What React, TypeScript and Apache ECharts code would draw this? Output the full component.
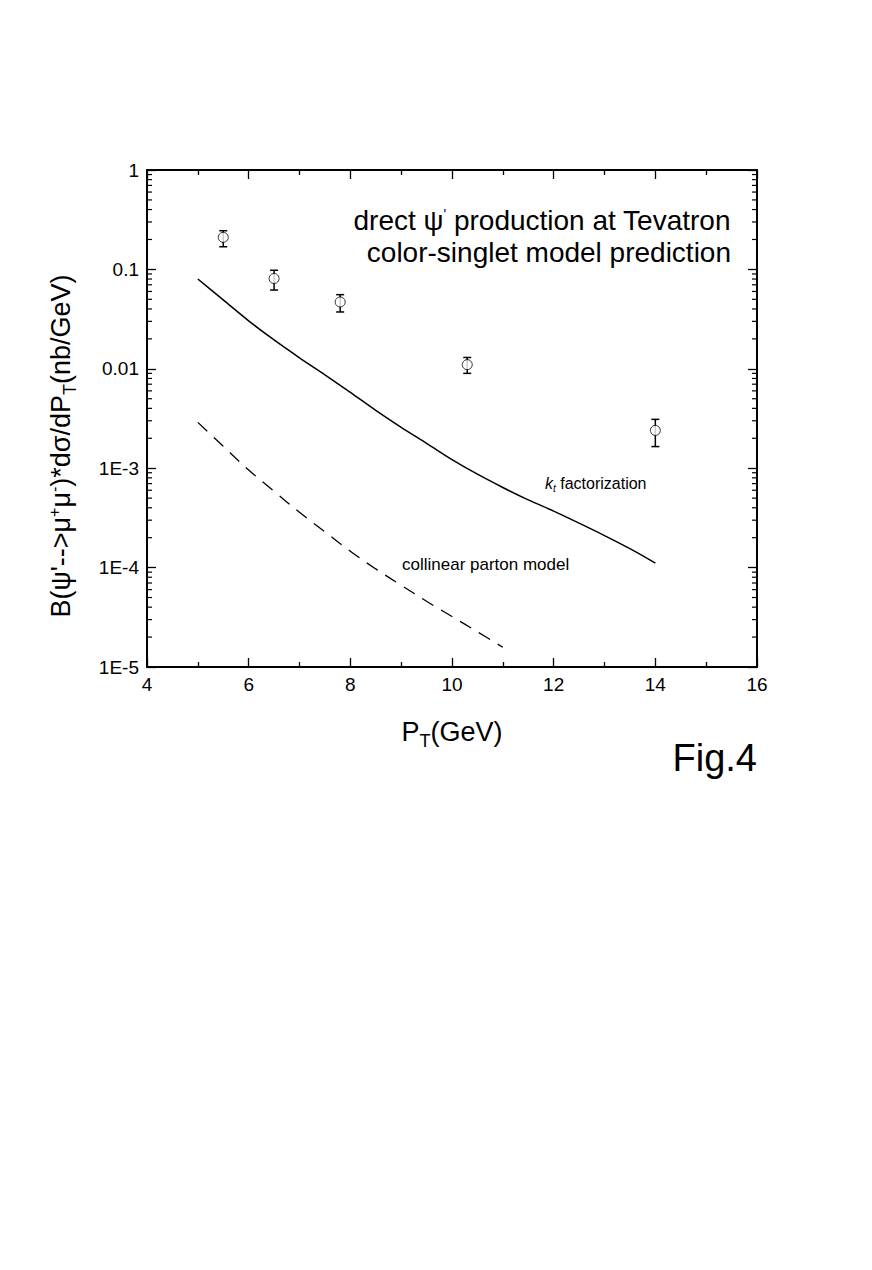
import React, { useEffect, useRef } from "react";
import * as echarts from "echarts";

// Measured data points (open circles with error bars)
const ptPoints = [5.5, 6.5, 7.8, 10.3, 14];
const dataValues = [0.21, 0.081, 0.047, 0.011, 0.0024];
const errUpper = [0.245, 0.098, 0.0557, 0.013, 0.0031];
const errLower = [0.169, 0.062, 0.0373, 0.009, 0.00165];

// kt factorization curve (solid)
const ktPt = [5, 5.5, 6, 6.5, 7, 7.5, 8, 8.5, 9, 9.5, 10, 10.5, 11, 11.5, 12, 12.5, 13, 13.5, 14];
const ktValues = [
  0.08, 0.0493, 0.0304, 0.0195, 0.0129, 0.0087, 0.0058, 0.00382, 0.00258, 0.00178,
  0.00122, 0.00087, 0.00064, 0.00048, 0.00037, 0.00028, 0.00021, 0.000155, 0.000111,
];

// collinear parton model curve (dashed)
const colPt = [5, 5.5, 6, 6.5, 7, 7.5, 8, 8.5, 9, 9.5, 10, 10.5, 11];
const colValues = [
  0.00289, 0.00166, 0.00096, 0.000585, 0.00036, 0.000229, 0.000146, 0.000097,
  0.0000665, 0.0000458, 0.0000322, 0.0000226, 0.0000158,
];

// axis settings
const xMin = 4;
const xMax = 16;
const yMin = 1e-5;
const yMax = 1;
const yMinorMantissas = [2, 3, 4, 5, 6, 7, 8, 9];
const yDecades = [1e-5, 1e-4, 1e-3, 1e-2, 1e-1];

const FONT = "'Liberation Sans', Arial, Helvetica, sans-serif";

export default function App() {
  const ref = useRef<HTMLDivElement>(null);

  useEffect(() => {
    if (!ref.current) return;
    const chart = echarts.init(ref.current, null, { renderer: "svg" });

    const minorTickData: number[][] = [];
    yDecades.forEach((d) => yMinorMantissas.forEach((m) => minorTickData.push([xMin, m * d])));

    const yLabel = (v: number) => {
      const e = Math.round(Math.log10(v));
      if (e === 0) return "1";
      if (e === -1) return "0.1";
      if (e === -2) return "0.01";
      return "1E" + e;
    };

    const axisLineStyle = { color: "#000", width: 2 };
    const tickStyle = { color: "#000", width: 1.3 };

    const option: any = {
      animation: false,
      backgroundColor: "#fff",
      grid: { left: 147, top: 170, width: 610, height: 497, containLabel: false },
      xAxis: [
        {
          type: "value",
          min: xMin,
          max: xMax,
          interval: 2,
          position: "bottom",
          axisLine: { show: true, lineStyle: axisLineStyle },
          axisTick: { show: true, inside: true, length: 9, lineStyle: tickStyle },
          minorTick: { show: true, splitNumber: 2, length: 5, lineStyle: tickStyle },
          splitLine: { show: false },
          axisLabel: { color: "#000", fontSize: 19, fontFamily: FONT, margin: 8 },
          name: "P{sub|T}(GeV)",
          nameLocation: "middle",
          nameGap: 47,
          nameTextStyle: {
            color: "#000",
            fontSize: 27,
            fontFamily: FONT,
            rich: {
              sub: { fontSize: 18, fontFamily: FONT, color: "#000", padding: [18, 0, 0, 0] },
            },
          },
        },
        {
          type: "value",
          min: xMin,
          max: xMax,
          interval: 2,
          position: "top",
          axisLine: { show: true, lineStyle: axisLineStyle },
          axisTick: { show: true, inside: true, length: 9, lineStyle: tickStyle },
          minorTick: { show: true, splitNumber: 2, length: 5, lineStyle: tickStyle },
          splitLine: { show: false },
          axisLabel: { show: false },
        },
      ],
      yAxis: [
        {
          type: "log",
          logBase: 10,
          min: yMin,
          max: yMax,
          position: "left",
          axisLine: { show: true, lineStyle: axisLineStyle },
          axisTick: { show: true, inside: true, length: 9, lineStyle: tickStyle },
          splitLine: { show: false },
          axisLabel: { color: "#000", fontSize: 19, fontFamily: FONT, margin: 8, formatter: yLabel },
        },
        {
          type: "log",
          logBase: 10,
          min: yMin,
          max: yMax,
          position: "right",
          axisLine: { show: true, lineStyle: axisLineStyle },
          axisTick: { show: true, inside: true, length: 9, lineStyle: tickStyle },
          splitLine: { show: false },
          axisLabel: { show: false },
        },
      ],
      series: [
        {
          type: "line",
          name: "kt factorization",
          data: ktPt.map((x, i) => [x, ktValues[i]]),
          showSymbol: false,
          smooth: 0.3,
          lineStyle: { color: "#000", width: 1.5, type: "solid" },
          z: 2,
        },
        {
          type: "line",
          name: "collinear parton model",
          data: colPt.map((x, i) => [x, colValues[i]]),
          showSymbol: false,
          smooth: 0.4,
          lineStyle: { color: "#000", width: 1.3, type: [13, 9] },
          z: 2,
        },
        {
          type: "custom",
          name: "errors",
          data: ptPoints.map((x, i) => [x, errLower[i], errUpper[i]]),
          encode: { x: 0, y: [1, 2] },
          renderItem: (params: any, api: any) => {
            const x = api.value(0);
            const lo = api.coord([x, api.value(1)]);
            const hi = api.coord([x, api.value(2)]);
            const cap = 4;
            const st = { stroke: "#000", lineWidth: 1.5 };
            return {
              type: "group",
              children: [
                { type: "line", shape: { x1: lo[0], y1: lo[1], x2: hi[0], y2: hi[1] }, style: st },
                { type: "line", shape: { x1: lo[0] - cap, y1: lo[1], x2: lo[0] + cap, y2: lo[1] }, style: st },
                { type: "line", shape: { x1: hi[0] - cap, y1: hi[1], x2: hi[0] + cap, y2: hi[1] }, style: st },
              ],
            };
          },
          z: 3,
        },
        {
          type: "scatter",
          name: "data",
          data: ptPoints.map((x, i) => [x, dataValues[i]]),
          symbol: "circle",
          symbolSize: 10,
          itemStyle: { color: "#fff", borderColor: "#000", borderWidth: 1 },
          z: 4,
        },
        {
          type: "custom",
          name: "yMinorTicks",
          data: minorTickData,
          silent: true,
          renderItem: (params: any, api: any) => {
            const v = api.value(1);
            const l = api.coord([xMin, v]);
            const r = api.coord([xMax, v]);
            const len = 5;
            const st = { stroke: "#000", lineWidth: 1.2 };
            return {
              type: "group",
              children: [
                { type: "line", shape: { x1: l[0], y1: l[1], x2: l[0] + len, y2: l[1] }, style: st },
                { type: "line", shape: { x1: r[0] - len, y1: r[1], x2: r[0], y2: r[1] }, style: st },
              ],
            };
          },
          z: 5,
        },
      ],
      graphic: [
        {
          type: "text",
          x: 61,
          y: 446,
          rotation: Math.PI / 2,
          style: {
            text: "B(ψ'-->μ{sup|+}μ{sup|-})*dσ/dP{sub|T}(nb/GeV)",
            font: `27px ${FONT}`,
            fill: "#000",
            align: "center",
            verticalAlign: "middle",
            textAlign: "center",
            textVerticalAlign: "middle",
            rich: {
              sup: { fontSize: 16, fontFamily: FONT, fill: "#000", padding: [0, 0, 14, 0] },
              sub: { fontSize: 18, fontFamily: FONT, fill: "#000", padding: [18, 0, 0, 0] },
            },
          },
        },
        {
          type: "text",
          right: 141,
          top: 206,
          style: {
            text: "drect ψ{sup|'} production at Tevatron",
            font: `28px ${FONT}`,
            fill: "#000",
            rich: {
              sup: { fontSize: 14, fontFamily: FONT, fill: "#000", padding: [0, 0, 12, 0] },
            },
          },
        },
        {
          type: "text",
          right: 141,
          top: 238,
          style: {
            text: "color-singlet model prediction",
            font: `28px ${FONT}`,
            fill: "#000",
          },
        },
        {
          type: "text",
          left: 545,
          top: 475,
          style: {
            text: "{it|k}{sub|t} factorization",
            font: `16px ${FONT}`,
            fill: "#000",
            rich: {
              it: { fontSize: 16, fontStyle: "italic", fontFamily: FONT, fill: "#000" },
              sub: { fontSize: 10, fontStyle: "italic", fontFamily: FONT, fill: "#000", padding: [10, 0, 0, 0] },
            },
          },
        },
        {
          type: "text",
          left: 402,
          top: 556,
          style: {
            text: "collinear parton model",
            font: `17px ${FONT}`,
            fill: "#000",
          },
        },
        {
          type: "text",
          right: 115,
          top: 739,
          style: {
            text: "Fig.4",
            font: `38px ${FONT}`,
            fill: "#000",
          },
        },
      ],
    };

    chart.setOption(option);
    return () => chart.dispose();
  }, []);

  return (
    <div
      ref={ref}
      style={{ position: "absolute", left: 0, top: 0, width: 872, height: 1270, background: "#fff" }}
    />
  );
}
